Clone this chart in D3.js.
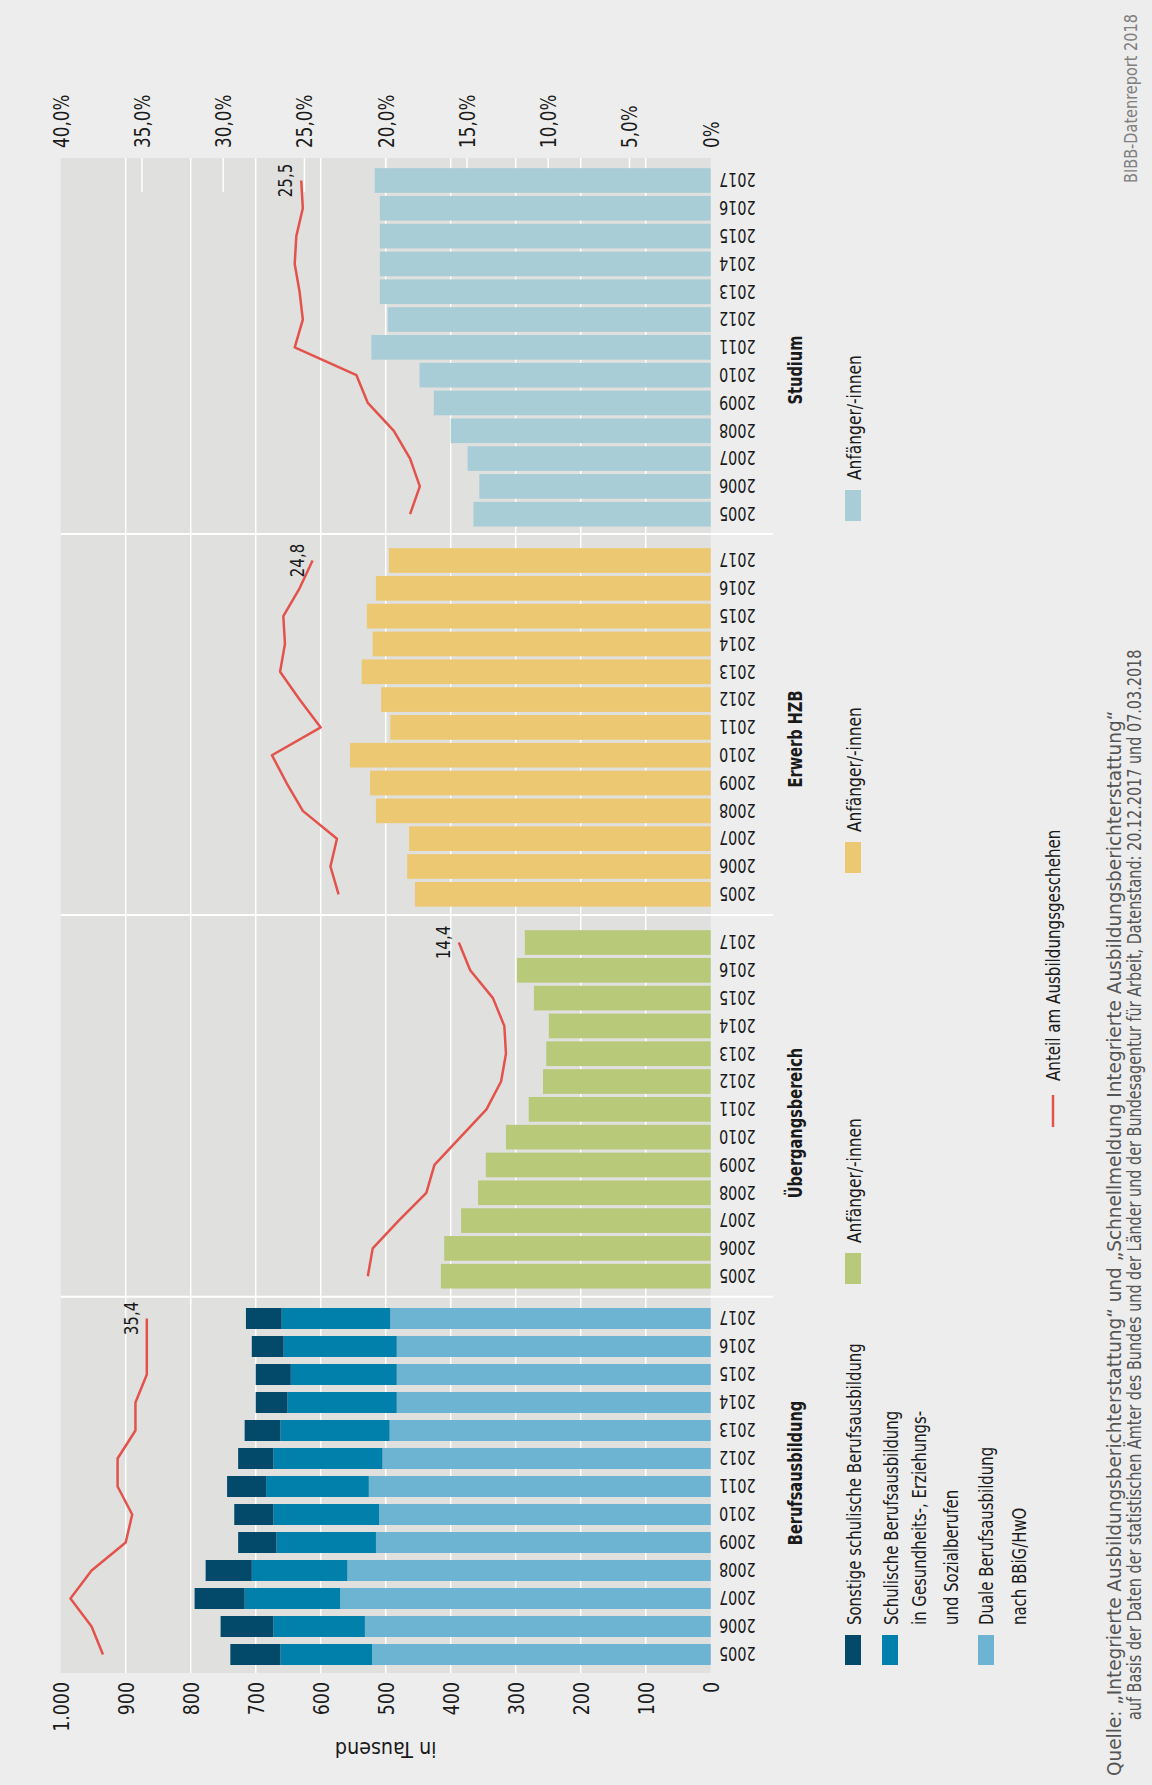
<!DOCTYPE html>
<html>
<head>
<meta charset="utf-8">
<script src="https://cdn.jsdelivr.net/npm/d3@7"></script>
<style>
  html, body { margin: 0; padding: 0; background: #ededed; }
  svg { display: block; }
  text { font-family: "Liberation Sans Narrow", "DejaVu Sans Condensed", "Liberation Sans", sans-serif; fill: #1a1a1a; }
</style>
</head>
<body>
<div id="chart"></div>
<script>
// ---- data (thousands of beginners / share in %) ----
const years = ["2005", "2006", "2007", "2008", "2009", "2010", "2011", "2012", "2013", "2014", "2015", "2016", "2017"];

const dualeBerufsausbildung = [521, 532, 570, 559, 515, 510, 526, 505, 494, 483, 483, 483, 493];
const schulischeGES = [141, 141, 147, 147, 153, 163, 158, 168, 168, 168, 163, 174, 167];
const sonstigeSchulisch = [77, 81, 77, 71, 59, 60, 60, 54, 55, 49, 54, 49, 55];
const uebergangsbereich = [415, 410, 384, 358, 346, 315, 280, 258, 253, 249, 272, 298, 286];
const erwerbHZB = [455, 467, 464, 515, 524, 555, 493, 507, 537, 520, 529, 515, 495];
const studium = [365, 356, 374, 400, 426, 448, 522, 497, 509, 509, 509, 509, 517];

const anteilBeruf = [37.4, 38.1, 39.4, 38.1, 36.0, 35.6, 36.5, 36.5, 35.4, 35.4, 34.7, 34.7, 34.7];
const anteilUebergang = [21.1, 20.8, 19.2, 17.5, 17.0, 15.4, 13.8, 12.9, 12.6, 12.7, 13.4, 14.8, 15.5];
const anteilErwerb = [22.9, 23.4, 23.0, 25.1, 26.1, 27.0, 24.0, 25.3, 26.5, 26.2, 26.3, 25.3, 24.5];
const anteilStudium = [18.5, 17.9, 18.5, 19.5, 21.1, 21.8, 25.6, 25.1, 25.3, 25.6, 25.5, 25.1, 25.2];
const anteilLabels = ["35,4", "14,4", "24,8", "25,5"];

const valueTicks = [0, 100, 200, 300, 400, 500, 600, 700, 800, 900, 1000];
const percentTicks = [0, 5, 10, 15, 20, 25, 30, 35, 40];

const berufKeys = ["Duale Berufsausbildung", "Schulische Berufsausbildung", "Sonstige schulische Berufsausbildung"];
const berufLegend = [
  ["Sonstige schulische Berufsausbildung"],
  ["Schulische Berufsausbildung", "in Gesundheits-, Erziehungs-", "und Sozialberufen"],
  ["Duale Berufsausbildung", "nach BBiG/HwO"]
];
const titles = ["Berufsausbildung", "Übergangsbereich", "Erwerb HZB", "Studium"];

// ---- layout ----
const width = 1152, height = 1785;
const plotTop = 158, plotBottom = 1673;
const colors = {
  dual: "#6db3d2", schul: "#0080aa", sonst: "#03496a",
  uebergang: "#b8c97a", erwerb: "#ecc872", studium: "#a9cdd6",
  line: "#e3524b", panel: "#e0e0df", bg: "#ededed"
};

const de = d3.formatLocale({ decimal: ",", thousands: ".", grouping: [3], currency: ["", " €"] });

// the reference uses a condensed face; squeeze text along its reading direction
const squeeze = (tr, k) => `${tr} scale(${k},1)`;
// squeeze a rotated text so that it runs exactly `len` pixels
const fitTo = (sel, tr, len) => {
  const natural = sel.node().getComputedTextLength();
  sel.attr("transform", squeeze(tr, len / natural));
};

const svg = d3.select("#chart").append("svg")
  .attr("width", width).attr("height", height);

svg.append("rect").attr("width", width).attr("height", height).attr("fill", colors.bg);

// value axis runs right-to-left (chart is turned on its side)
const x = d3.scaleLinear().domain([0, 1000]).range([710.7, 60.7]);
const xPct = d3.scaleLinear().domain([0, 40]).range([710.7, 60.7]);

svg.append("rect")
  .attr("x", x(1000)).attr("y", plotTop)
  .attr("width", x(0) - x(1000)).attr("height", plotBottom - plotTop)
  .attr("fill", colors.panel);

// percent ticks: short white marks from the top edge
svg.append("g").selectAll("line")
  .data(percentTicks.filter(d => d > 0 && d < 40))
  .join("line")
  .attr("x1", d => xPct(d)).attr("x2", d => xPct(d))
  .attr("y1", plotTop).attr("y2", plotTop + 34)
  .attr("stroke", "#fff").attr("stroke-width", 1.5);

// gridlines
svg.append("g").selectAll("line")
  .data(valueTicks.filter(d => d > 0 && d < 1000))
  .join("line")
  .attr("x1", d => x(d)).attr("x2", d => x(d))
  .attr("y1", plotTop).attr("y2", plotBottom)
  .attr("stroke", "#fff").attr("stroke-width", 1.5);

// panels: centre of 2005 bar / 2017 bar, legend box bottom, title centre
const panels = [
  { title: titles[0], range: [1654.5, 1318.5], band: 21, legendBottom: 1665, titleY: 1473, share: anteilBeruf, label: anteilLabels[0] },
  { title: titles[1], range: [1276.2, 942.5], band: 24.7, legendBottom: 1284, titleY: 1123, share: anteilUebergang, label: anteilLabels[1], values: uebergangsbereich, color: colors.uebergang },
  { title: titles[2], range: [894.3, 560.5], band: 24.7, legendBottom: 873, titleY: 739, share: anteilErwerb, label: anteilLabels[2], values: erwerbHZB, color: colors.erwerb },
  { title: titles[3], range: [514.2, 180.5], band: 24.7, legendBottom: 521, titleY: 370, share: anteilStudium, label: anteilLabels[3], values: studium, color: colors.studium }
];
const separators = [1296.7, 915, 534];

const line = d3.line();

panels.forEach((p, i) => {
  const y = d3.scalePoint().domain(years).range(p.range);
  const g = svg.append("g");

  if (i === 0) {
    // stacked bars for Berufsausbildung
    const rows = years.map((yr, j) => ({
      year: yr,
      "Duale Berufsausbildung": dualeBerufsausbildung[j],
      "Schulische Berufsausbildung": schulischeGES[j],
      "Sonstige schulische Berufsausbildung": sonstigeSchulisch[j]
    }));
    const stack = d3.stack().keys(berufKeys)(rows);
    const fills = [colors.dual, colors.schul, colors.sonst];
    g.selectAll("g").data(stack).join("g")
      .attr("fill", (d, k) => fills[k])
      .selectAll("rect").data(d => d).join("rect")
      .attr("x", d => x(d[1]))
      .attr("width", d => x(d[0]) - x(d[1]))
      .attr("y", d => y(d.data.year) - p.band / 2)
      .attr("height", p.band);
  } else {
    g.selectAll("rect").data(p.values).join("rect")
      .attr("x", d => x(d))
      .attr("width", d => x(0) - x(d))
      .attr("y", (d, j) => y(years[j]) - p.band / 2)
      .attr("height", p.band)
      .attr("fill", p.color);
  }

  // share line
  const pts = p.share.map((d, j) => [xPct(d), y(years[j])]);
  g.append("path")
    .attr("d", line(pts))
    .attr("fill", "none")
    .attr("stroke", colors.line)
    .attr("stroke-width", 2.5)
    .attr("stroke-linejoin", "round");

  const last = pts[pts.length - 1];
  g.append("text")
    .attr("transform", squeeze(`translate(${last[0] - 9},${last[1]}) rotate(-90)`, 0.84))
    .attr("text-anchor", "middle")
    .style("font-size", "20px")
    .text(p.label);

  // year labels (upside down)
  g.selectAll(".yr").data(years).join("text")
    .attr("class", "yr")
    .attr("transform", d => squeeze(`translate(719,${y(d)}) rotate(180)`, 0.8))
    .attr("text-anchor", "end")
    .attr("dominant-baseline", "central")
    .style("font-size", "20px")
    .text(d => d);

  // panel title
  g.append("text")
    .attr("transform", squeeze(`translate(802,${p.titleY}) rotate(-90)`, 0.81))
    .attr("text-anchor", "middle")
    .style("font-size", "20px")
    .style("font-weight", "bold")
    .text(p.title);

  // legend
  if (i === 0) {
    const boxX = [845, 882, 978];
    const lineX = [[861], [897.5, 926, 958], [992.5, 1026]];
    const fills = [colors.sonst, colors.schul, colors.dual];
    berufLegend.forEach((lines, k) => {
      g.append("rect")
        .attr("x", boxX[k]).attr("y", p.legendBottom - 30)
        .attr("width", 16).attr("height", 30)
        .attr("fill", fills[k]);
      lines.forEach((t, m) => {
        g.append("text")
          .attr("transform", squeeze(`translate(${lineX[k][m]},${p.legendBottom - 40}) rotate(-90)`, 0.83))
          .style("font-size", "20px")
          .text(t);
      });
    });
  } else {
    g.append("rect")
      .attr("x", 845).attr("y", p.legendBottom - 31)
      .attr("width", 16).attr("height", 31)
      .attr("fill", p.color);
    g.append("text")
      .attr("transform", squeeze(`translate(861,${p.legendBottom - 41}) rotate(-90)`, 0.86))
      .style("font-size", "20px")
      .text("Anfänger/-innen");
  }
});

// group separators
svg.append("g").selectAll("line").data(separators).join("line")
  .attr("x1", x(1000)).attr("x2", 773)
  .attr("y1", d => d).attr("y2", d => d)
  .attr("stroke", "#fff").attr("stroke-width", 2);

// value axis (bottom of picture)
const xAxis = d3.axisBottom(x).tickValues(valueTicks).tickSize(0)
  .tickFormat(d => de.format(",")(d));
const gx = svg.append("g").attr("transform", `translate(0,${plotBottom})`).call(xAxis);
gx.select(".domain").remove();
gx.selectAll("text")
  .attr("y", 0).attr("dy", null)
  .attr("transform", squeeze("translate(0,9) rotate(-90)", 0.88))
  .attr("text-anchor", "end")
  .attr("dominant-baseline", "central")
  .attr("fill", "#1a1a1a")
  .style("font-size", "22px")
  .style("font-family", null);

svg.append("text")
  .attr("transform", squeeze(`translate(${(x(0) + x(1000)) / 2},1750) rotate(180)`, 0.97))
  .attr("text-anchor", "middle")
  .attr("dominant-baseline", "central")
  .style("font-size", "22px")
  .text("in Tausend");

// percent axis (top of picture)
const pctAxis = d3.axisTop(xPct).tickValues(percentTicks).tickSize(0)
  .tickFormat(d => d === 0 ? "0%" : de.format(",.1f")(d) + "%");
const gp = svg.append("g").attr("transform", `translate(0,${plotTop})`).call(pctAxis);
gp.select(".domain").remove();
gp.selectAll("text")
  .attr("y", 0).attr("dy", null)
  .attr("transform", squeeze("translate(0,-10) rotate(-90)", 0.85))
  .attr("text-anchor", "start")
  .attr("dominant-baseline", "central")
  .attr("fill", "#1a1a1a")
  .style("font-size", "22px")
  .style("font-family", null);

// share legend
svg.append("line")
  .attr("x1", 1053).attr("x2", 1053).attr("y1", 1095).attr("y2", 1127)
  .attr("stroke", colors.line).attr("stroke-width", 2.5);
svg.append("text")
  .attr("transform", squeeze("translate(1060,1081) rotate(-90)", 0.84))
  .style("font-size", "20px")
  .text("Anteil am Ausbildungsgeschehen");

// source + report note
const q1 = svg.append("text")
  .style("font-size", "20px").style("fill", "#555")
  .text("Quelle: „Integrierte Ausbildungsberichterstattung“ und „Schnellmeldung Integrierte Ausbildungsberichterstattung“");
fitTo(q1, "translate(1121,1776) rotate(-90)", 1066);

const q2 = svg.append("text")
  .style("font-size", "20px").style("fill", "#555")
  .text("auf Basis der Daten der statistischen Ämter des Bundes und der Länder und der Bundesagentur für Arbeit, Datenstand: 20.12.2017 und 07.03.2018");
fitTo(q2, "translate(1141,1720) rotate(-90)", 1071);

const note = svg.append("text")
  .style("font-size", "18px").style("fill", "#808080")
  .text("BIBB-Datenreport 2018");
fitTo(note, "translate(1137,183) rotate(-90)", 169);
</script>
</body>
</html>
